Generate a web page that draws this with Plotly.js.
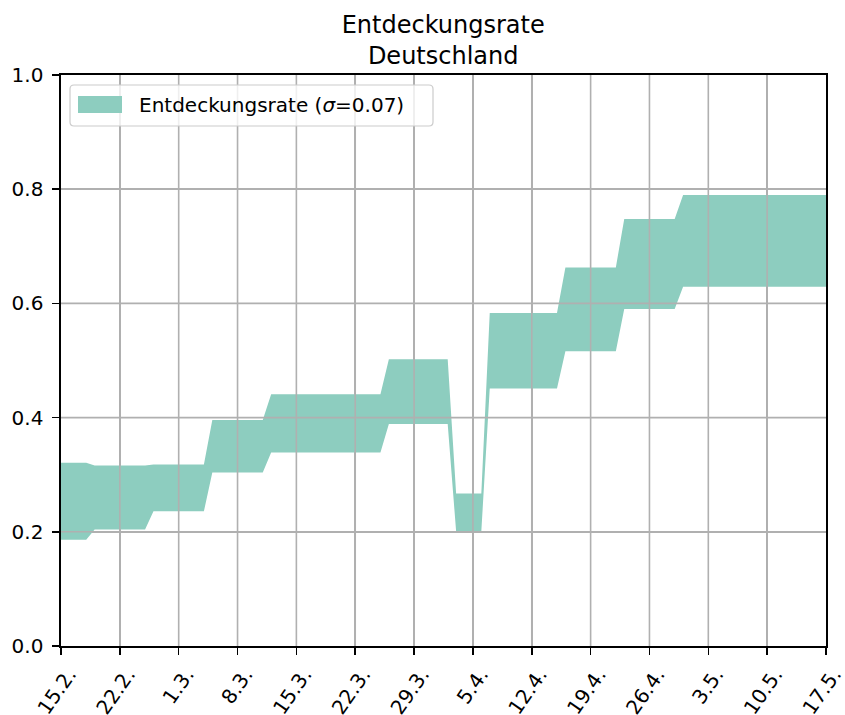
<!DOCTYPE html>
<html>
<head>
<meta charset="utf-8">
<script src="https://cdn.plot.ly/plotly-3.0.1.min.js"></script>
<style>html,body{margin:0;padding:0;background:#fff;}</style>
</head>
<body>
<div id="chart" style="width:845px;height:715px;"></div>
<script>
// Data (breakpoints of the daily step series)
const dates = ['2021-02-15','2021-02-18','2021-02-19','2021-02-25','2021-02-26','2021-03-04','2021-03-05','2021-03-11','2021-03-12','2021-03-25','2021-03-26','2021-04-02','2021-04-03','2021-04-06','2021-04-07','2021-04-15','2021-04-16','2021-04-22','2021-04-23','2021-04-29','2021-04-30','2021-05-17'];
const lower = [0.186,0.186,0.204,0.204,0.236,0.236,0.304,0.304,0.339,0.339,0.389,0.389,0.201,0.201,0.451,0.451,0.516,0.516,0.590,0.590,0.629,0.629];
const upper = [0.321,0.321,0.316,0.316,0.318,0.318,0.396,0.396,0.441,0.441,0.502,0.502,0.267,0.267,0.583,0.583,0.663,0.663,0.748,0.748,0.790,0.790];
const tickDates = ['2021-02-15','2021-02-22','2021-03-01','2021-03-08','2021-03-15','2021-03-22','2021-03-29','2021-04-05','2021-04-12','2021-04-19','2021-04-26','2021-05-03','2021-05-10','2021-05-17'];
const tickLabels = ['15.2.','22.2.','1.3.','8.3.','15.3.','22.3.','29.3.','5.4.','12.4.','19.4.','26.4.','3.5.','10.5.','17.5.'];
const yTicks = [0, 0.2, 0.4, 0.6, 0.8, 1.0];
const seriesName = 'Entdeckungsrate (<i>σ</i>=0.07)';
const chartTitle = 'Entdeckungsrate<br>Deutschland';

const fillColor = 'rgb(141,205,191)';
const gridColor = '#b0b0b0';
const font = 'DejaVu Sans, Arial, sans-serif';

const traces = [
  {x: dates, y: lower, type: 'scatter', mode: 'lines', line: {width: 0, color: fillColor},
   showlegend: false, hoverinfo: 'skip'},
  {x: dates, y: upper, type: 'scatter', mode: 'lines', line: {width: 0, color: fillColor},
   fill: 'tonexty', fillcolor: fillColor, name: seriesName, showlegend: false}
];

// grid lines drawn above the band (as in the reference)
const shapes = [];
tickDates.slice(1, -1).forEach(d => shapes.push({type: 'line', layer: 'above', xref: 'x', yref: 'paper',
  x0: d, x1: d, y0: 0, y1: 1, line: {color: gridColor, width: 1.6}}));
yTicks.slice(1, -1).forEach(v => shapes.push({type: 'line', layer: 'above', xref: 'paper', yref: 'y',
  x0: 0, x1: 1, y0: v, y1: v, line: {color: gridColor, width: 1.6}}));

// legend box (rounded) + patch
const W = 765, H = 571;
const bx0 = 9 / W, bx1 = 372 / W, byT = 561 / H, byB = 520 / H;
const rx = 4 / W, ry = 4 / H;
const p = `M${bx0+rx},${byB} L${bx1-rx},${byB} Q${bx1},${byB} ${bx1},${byB+ry} L${bx1},${byT-ry} Q${bx1},${byT} ${bx1-rx},${byT} L${bx0+rx},${byT} Q${bx0},${byT} ${bx0},${byT-ry} L${bx0},${byB+ry} Q${bx0},${byB} ${bx0+rx},${byB} Z`;
shapes.push({type: 'path', layer: 'above', xref: 'paper', yref: 'paper', path: p,
  fillcolor: 'rgba(255,255,255,0.8)', line: {color: '#cccccc', width: 1.2}});
shapes.push({type: 'rect', layer: 'above', xref: 'paper', yref: 'paper',
  x0: 17 / W, x1: 61 / W, y0: 533 / H, y1: 550 / H, fillcolor: fillColor, line: {width: 0}});

const layout = {
  width: 845, height: 715,
  margin: {l: 61, r: 19, t: 75, b: 69},
  paper_bgcolor: '#fff', plot_bgcolor: '#fff',
  font: {family: font, size: 20, color: '#000'},
  showlegend: false,
  title: {text: chartTitle, font: {family: font, size: 24, color: '#000'},
          x: 0.5245, xanchor: 'center', y: 1 - 32.5 / 715, yanchor: 'middle', yref: 'container'},
  xaxis: {type: 'date', range: [tickDates[0], tickDates[tickDates.length - 1]],
          tickmode: 'array', tickvals: tickDates, ticktext: tickLabels, tickangle: -55,
          tickfont: {family: font, size: 20, color: '#000'},
          showgrid: true, gridcolor: gridColor, gridwidth: 1.6,
          showline: true, linecolor: '#000', linewidth: 1.6, mirror: true,
          ticks: 'outside', ticklen: 7, tickwidth: 1.6, tickcolor: '#000',
          ticklabelshift: 8, ticklabeloverflow: 'allow', automargin: false, zeroline: false, fixedrange: true},
  yaxis: {range: [0, 1], tickmode: 'array', tickvals: yTicks, tickformat: '.1f',
          tickfont: {family: font, size: 20, color: '#000'},
          showgrid: true, gridcolor: gridColor, gridwidth: 1.6,
          showline: true, linecolor: '#000', linewidth: 1.6, mirror: true,
          ticks: 'outside', ticklen: 7, tickwidth: 1.6, tickcolor: '#000', ticklabelstandoff: 5,
          automargin: false, zeroline: false, fixedrange: true},
  shapes: shapes,
  annotations: [{xref: 'paper', yref: 'paper', x: 76 / W, y: 541.5 / H, xanchor: 'left', yanchor: 'middle',
    text: seriesName, showarrow: false, font: {family: font, size: 20, color: '#000'}}]
};

Plotly.newPlot('chart', traces, layout, {displayModeBar: false, staticPlot: true});
</script>
</body>
</html>
